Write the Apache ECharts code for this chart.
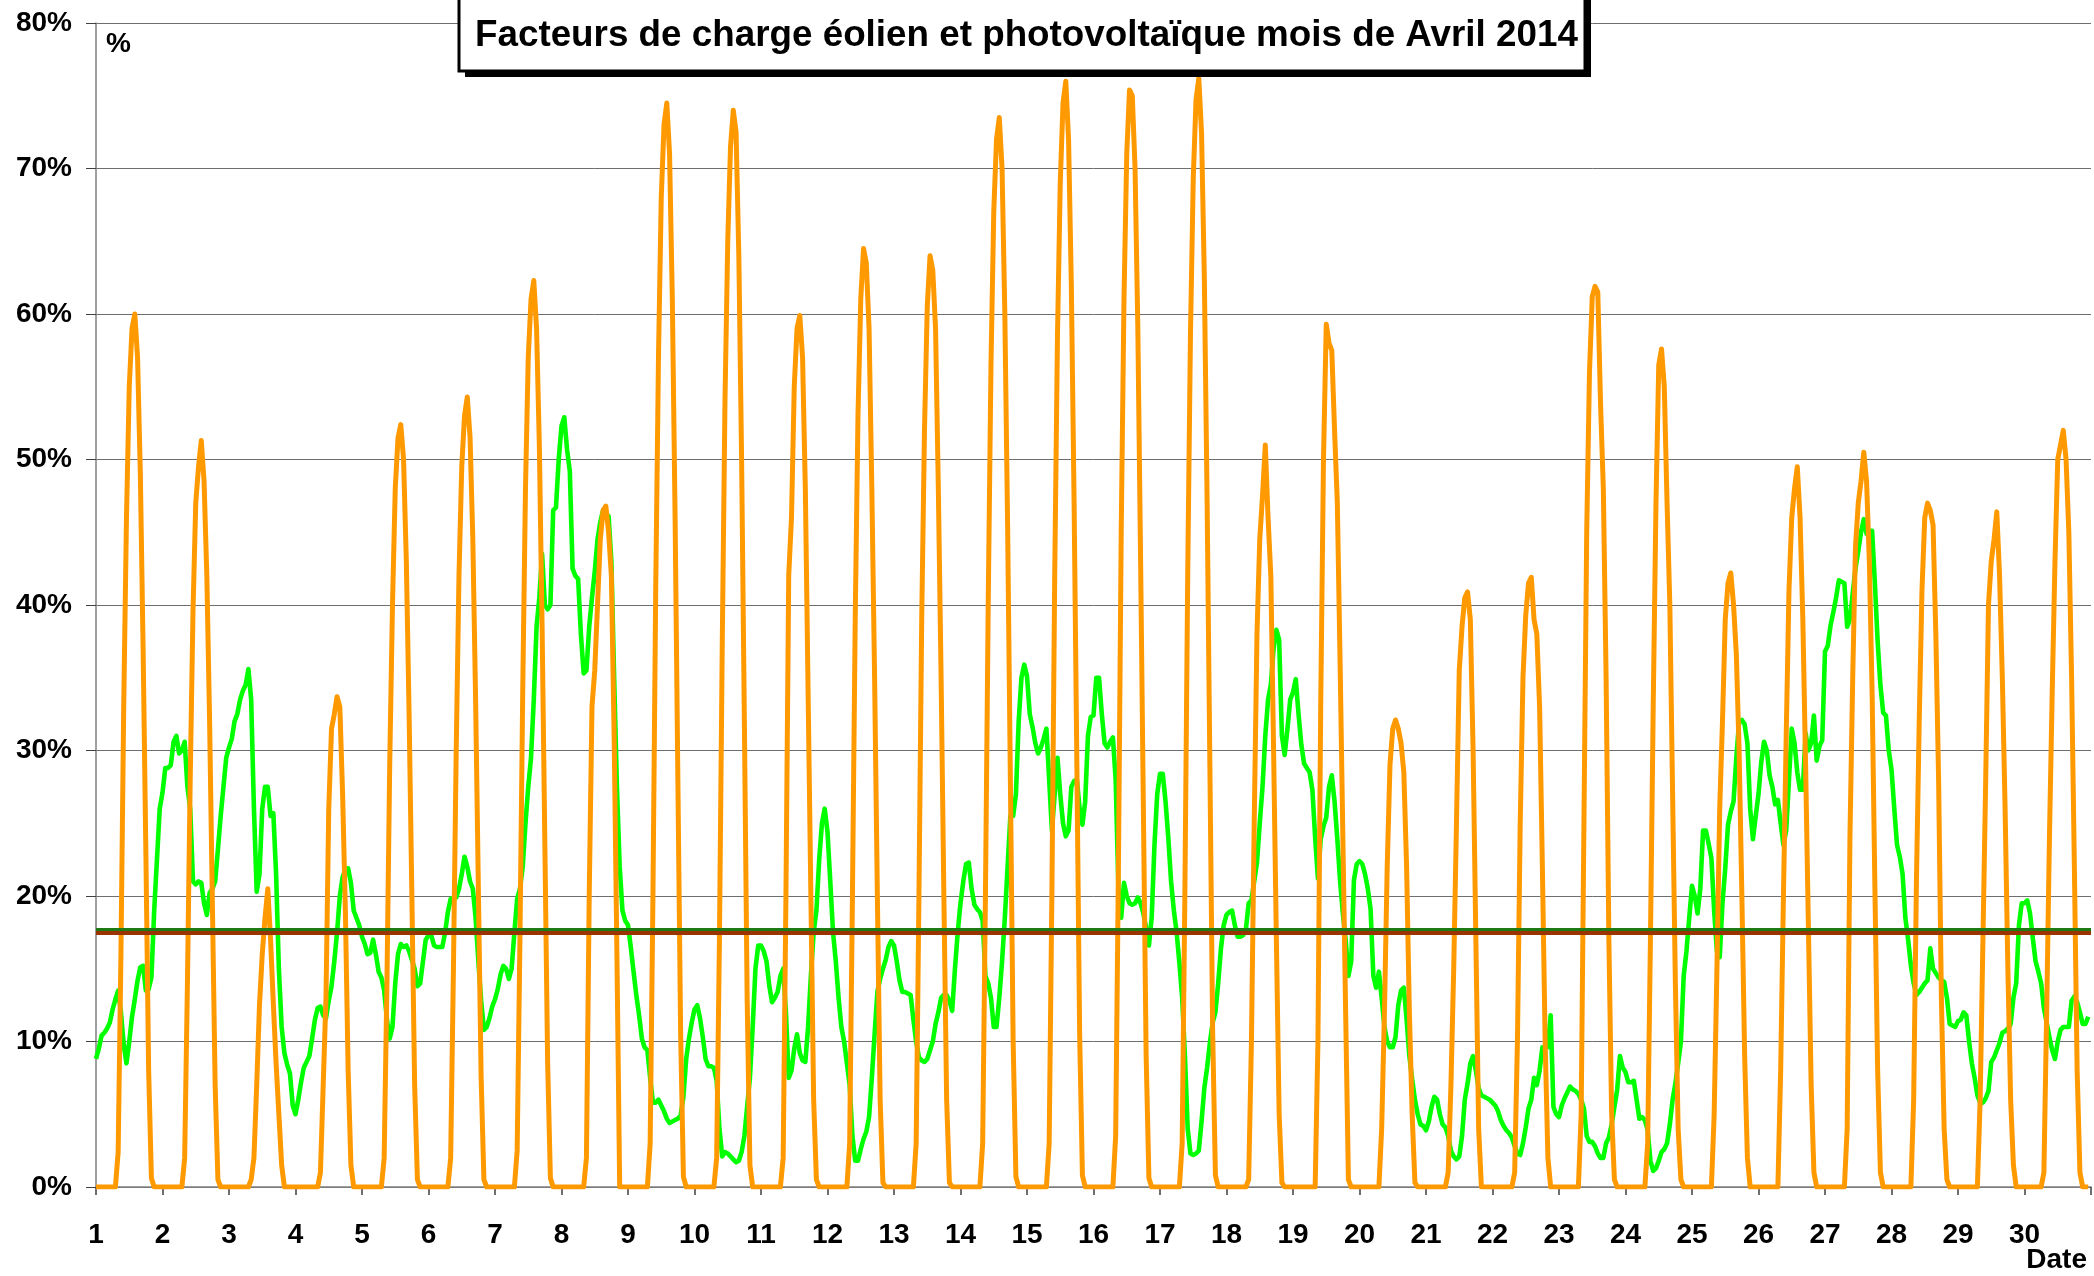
<!DOCTYPE html>
<html>
<head>
<meta charset="utf-8">
<title>Facteurs de charge Avril 2014</title>
<script src="https://cdn.jsdelivr.net/npm/echarts@6/dist/echarts.min.js"></script>
<style>
  html, body { margin: 0; padding: 0; background: #fff; }
  #chart { width: 2094px; height: 1276px; }
</style>
</head>
<body>
<div id="chart"></div>
<script>
// facteur de charge horaire (%), une ligne = un jour (0h..23h)
const wind = [
  [8.8, 9.5, 10.4, 10.6, 10.9, 11.3, 12.2, 12.9, 13.5, 12, 9.8, 8.5, 10, 11.7, 12.9, 14.2, 15.1, 15.2, 13.5, 13.6, 14.4, 19, 22.5, 26],
  [27.1, 28.8, 28.8, 29, 30.6, 31, 29.8, 30, 30.6, 27.5, 26, 21, 20.8, 21, 20.9, 19.5, 18.7, 20.2, 20.5, 21, 23.2, 25.5, 27.5, 29.5],
  [30.2, 30.8, 32, 32.5, 33.5, 34.1, 34.5, 35.6, 33.5, 26, 20.3, 21.5, 26, 27.5, 27.5, 25.5, 25.7, 21.5, 15, 11, 9.2, 8.4, 7.8, 5.6],
  [5, 6, 7.2, 8.2, 8.6, 9, 10.2, 11.5, 12.3, 12.4, 11.8, 11.6, 12.8, 13.8, 15.5, 17.5, 20, 21.3, 21.8, 21.9, 20.9, 19, 18.5, 18],
  [17.2, 16.7, 16, 16.1, 17, 16, 14.8, 14.4, 13.5, 11.5, 10.2, 11, 14, 16, 16.7, 16.5, 16.6, 16.2, 15.6, 15, 13.8, 14, 15.5, 17],
  [17.3, 17.3, 16.6, 16.5, 16.5, 16.5, 17.5, 18.9, 19.8, 19.9, 19.9, 20.5, 21.5, 22.7, 22, 21, 20.5, 18.5, 15.5, 12.8, 10.8, 11, 11.6, 12.4],
  [12.9, 13.6, 14.6, 15.2, 15, 14.3, 15, 17.5, 19.8, 20.5, 22, 25, 27.5, 29.5, 33.5, 38.5, 40.5, 43.5, 40, 39.7, 40, 46.5, 46.7, 50],
  [52.3, 52.9, 50.7, 49.2, 42.5, 42, 41.8, 38, 35.3, 35.5, 38.5, 40.5, 42.3, 44.5, 45.7, 46.5, 46.3, 46.1, 43, 35, 27.5, 22, 19, 18.3],
  [18, 16.5, 14.8, 13.2, 11.8, 10.2, 9.6, 9.4, 7.5, 5.8, 5.8, 6, 5.6, 5.2, 4.7, 4.4, 4.5, 4.6, 4.7, 4.9, 6.2, 8.8, 10.2, 11.3],
  [12.2, 12.5, 11.6, 10.3, 8.8, 8.3, 8.3, 8.2, 7.3, 4, 2.1, 2.4, 2.3, 2.1, 1.9, 1.7, 1.8, 2.4, 3.5, 5.5, 7.5, 11, 15, 16.6],
  [16.6, 16.2, 15.5, 13.8, 12.7, 13, 13.4, 14.5, 15, 12, 7.5, 8, 9.5, 10.5, 9.2, 8.7, 8.6, 11, 14.5, 17.5, 19, 22.5, 25, 26],
  [24.4, 21, 17.5, 15.5, 13, 11, 10, 8.5, 7, 3.5, 1.8, 1.8, 2.6, 3.3, 3.8, 4.8, 7.5, 10.5, 13.4, 14.3, 15, 15.6, 16.5, 16.9],
  [16.6, 15.5, 14.2, 13.4, 13.4, 13.3, 13.2, 11.5, 10, 8.9, 8.7, 8.6, 8.8, 9.4, 10, 11.2, 12, 13, 13.2, 13.2, 12.8, 12.1, 15, 17.5],
  [19.5, 21, 22.2, 22.3, 20.5, 19.4, 19.1, 18.9, 18.3, 14.5, 14, 13, 11, 11, 13, 15.5, 18.5, 22, 25.5, 25.5, 27, 32, 35, 35.9],
  [35.1, 32.5, 31.6, 30.5, 29.8, 30.2, 30.8, 31.5, 28, 24.5, 27, 29.5, 27, 25, 24.1, 24.5, 27.5, 27.9, 28, 26, 24.9, 26.5, 31, 32.3],
  [32.4, 35, 35, 32.5, 30.5, 30.2, 30.6, 30.9, 28, 20.5, 18.5, 20.9, 20, 19.5, 19.4, 19.5, 19.9, 19.5, 18.8, 17.8, 16.6, 18.5, 23.5, 27],
  [28.4, 28.4, 26.5, 24, 21, 19, 17.5, 15.4, 13, 9, 4, 2.3, 2.2, 2.3, 2.5, 4.5, 6.8, 8.2, 9.9, 11.3, 12, 14, 16.4, 18],
  [18.7, 18.9, 19, 18, 17.2, 17.2, 17.3, 17.7, 19.5, 19.7, 21, 22.3, 25, 27.5, 31, 33.5, 34.5, 37, 38.3, 37.6, 31, 29.7, 31.5, 33.5],
  [34, 34.9, 32.5, 30.4, 29.1, 28.8, 28.5, 27.3, 24, 21.2, 23.9, 24.8, 25.4, 27.5, 28.3, 26.5, 23.9, 21, 18.8, 17, 14.5, 15.5, 21.1, 22.2],
  [22.4, 22.2, 21.5, 20.5, 19.1, 14.5, 13.7, 14.8, 13, 11, 10, 9.6, 9.6, 10.3, 12.5, 13.5, 13.7, 11.5, 9, 7.4, 6, 5, 4.3, 4.2],
  [3.9, 4.5, 5.5, 6.2, 6, 5, 4.3, 4.1, 3.5, 2.5, 2.1, 1.9, 2.1, 3.5, 6, 7.1, 8.5, 9, 8, 6.8, 6.3, 6.2, 6.1, 6],
  [5.8, 5.6, 5.2, 4.6, 4.2, 3.9, 3.7, 3.4, 2.8, 2.3, 2.2, 3, 4.1, 5.4, 6, 7.5, 7, 8, 9.6, 9.6, 9.6, 11.8, 5.5, 5],
  [4.8, 5.6, 6.1, 6.5, 6.9, 6.7, 6.6, 6.4, 6, 5.4, 3.5, 3.1, 3.1, 2.8, 2.3, 2, 2, 3, 3.4, 4.3, 5.5, 6.7, 9, 8.2],
  [7.9, 7.2, 7.2, 7.3, 6, 4.7, 4.8, 4.6, 3.9, 1.8, 1.1, 1.3, 1.8, 2.4, 2.6, 3, 4.3, 6, 7.1, 8.5, 10, 14.5, 16.2, 18.5],
  [20.7, 20, 18.8, 20.5, 24.5, 24.5, 23.6, 22.6, 19, 16.2, 15.8, 19.5, 21.9, 24.9, 25.8, 26.5, 29.5, 32, 32.1, 31.8, 30.5, 26, 23.9, 25.5],
  [27, 29.2, 30.6, 30, 28.3, 27.5, 26.3, 26.6, 25, 23.5, 24.5, 28, 31.5, 30.5, 28.5, 27.3, 27.3, 31.2, 30, 30.5, 32.4, 29.3, 30.3, 30.7],
  [36.8, 37.2, 38.6, 39.5, 40.5, 41.7, 41.6, 41.5, 38.5, 39, 40.8, 42.5, 43.7, 45, 45.9, 44.9, 45.1, 45.1, 41.5, 37.5, 34.5, 32.6, 32.4, 30],
  [28.7, 26, 23.5, 22.7, 21.5, 18.5, 17, 15.2, 14, 13.2, 13.4, 13.7, 14, 14.2, 16.4, 15, 14.7, 14.4, 14.2, 14.1, 13, 11.2, 11.1, 11],
  [11.4, 11.5, 12, 11.8, 10, 8.5, 7.5, 6.3, 5.8, 5.8, 6.1, 6.6, 8.6, 8.9, 9.4, 9.9, 10.6, 10.7, 10.9, 11.2, 13, 14, 18, 19.5],
  [19.5, 19.7, 18.8, 17.1, 15.5, 14.8, 14, 12.3, 11.3, 10.3, 9.4, 8.8, 10, 10.8, 11, 11, 11, 12.8, 13.1, 12.7, 12, 11.2, 11.2, 11.7]
];

const solar = [
  [0, 0, 0, 0, 0, 0, 0, 0, 2.4, 16, 33, 46, 55, 59, 60, 57, 49, 37, 23, 8, 0.6, 0, 0, 0],
  [0, 0, 0, 0, 0, 0, 0, 0, 2, 14, 28, 39.5, 47, 49.5, 51.3, 48.5, 42, 32, 19.5, 7, 0.5, 0, 0, 0],
  [0, 0, 0, 0, 0, 0, 0, 0, 0.5, 2, 7, 12.5, 16, 18.5, 20.5, 17, 12.6, 8.5, 5, 1.5, 0, 0, 0, 0],
  [0, 0, 0, 0, 0, 0, 0, 0, 0, 1, 7, 13, 26, 31.5, 32.5, 33.7, 33, 27, 19, 8, 1.5, 0, 0, 0],
  [0, 0, 0, 0, 0, 0, 0, 0, 2, 14, 29, 40, 48, 51.5, 52.4, 50, 43, 32.5, 20, 7, 0.5, 0, 0, 0],
  [0, 0, 0, 0, 0, 0, 0, 0, 2, 15, 30, 42, 49.5, 53, 54.3, 51.5, 44.5, 33.5, 20.5, 7.5, 0.5, 0, 0, 0],
  [0, 0, 0, 0, 0, 0, 0, 0, 2.5, 17, 34, 48, 57, 61, 62.3, 59, 51, 38.5, 23.5, 8.5, 0.6, 0, 0, 0],
  [0, 0, 0, 0, 0, 0, 0, 0, 0, 2, 20, 33, 35.5, 40, 44.5, 46.5, 46.8, 45, 42, 31, 16, 0, 0, 0],
  [0, 0, 0, 0, 0, 0, 0, 0, 3, 20, 41, 57, 68, 73, 74.5, 71, 61, 46, 28, 10.5, 0.7, 0, 0, 0],
  [0, 0, 0, 0, 0, 0, 0, 0, 2, 17, 37, 54, 65, 71.5, 74, 72.5, 64, 50, 32, 13, 1.5, 0, 0, 0],
  [0, 0, 0, 0, 0, 0, 0, 0, 2, 20, 42, 46, 55, 59, 59.9, 57, 48, 34, 20, 6, 0.5, 0, 0, 0],
  [0, 0, 0, 0, 0, 0, 0, 0, 3, 20, 39, 53, 61, 64.5, 63.5, 59, 48, 35, 20, 6, 0.3, 0, 0, 0],
  [0, 0, 0, 0, 0, 0, 0, 0, 3, 20, 39, 52, 60.5, 64, 63, 59, 48, 35, 20, 6, 0.3, 0, 0, 0],
  [0, 0, 0, 0, 0, 0, 0, 0, 3, 20, 40, 56.5, 67, 72, 73.5, 70, 60, 45.5, 28, 10, 0.7, 0, 0, 0],
  [0, 0, 0, 0, 0, 0, 0, 0, 3, 20.5, 42, 58.5, 69, 74.5, 76, 72, 62, 47, 29, 10.5, 0.8, 0, 0, 0],
  [0, 0, 0, 0, 0, 0, 0, 0, 3.5, 22, 45, 61, 71, 75.4, 75, 70, 59, 43, 26, 9, 0.6, 0, 0, 0],
  [0, 0, 0, 0, 0, 0, 0, 0, 3, 20.6, 42, 58.7, 69.3, 74.7, 76.2, 72.4, 62.5, 47.2, 29, 10.7, 0.8, 0, 0, 0],
  [0, 0, 0, 0, 0, 0, 0, 0, 0.5, 10, 25, 38, 44.5, 47.5, 51, 46, 42, 30, 17, 5, 0.3, 0, 0, 0],
  [0, 0, 0, 0, 0, 0, 0, 0, 0, 10, 33, 50, 59.3, 58, 57.5, 52, 47, 36, 24, 12, 0.5, 0, 0, 0],
  [0, 0, 0, 0, 0, 0, 0, 0, 4, 12, 22, 29, 31.5, 32.1, 31.5, 30.5, 28.5, 22, 12, 5, 0.3, 0, 0, 0],
  [0, 0, 0, 0, 0, 0, 0, 0, 1, 7, 15, 25, 35.5, 38.5, 40.5, 40.9, 39, 30, 17, 4, 0, 0, 0, 0],
  [0, 0, 0, 0, 0, 0, 0, 0, 1, 10, 25, 35, 39.3, 41.5, 41.9, 39, 38, 33, 22, 10, 2, 0, 0, 0],
  [0, 0, 0, 0, 0, 0, 0, 0, 5, 25, 45, 56, 61.2, 61.9, 61.5, 53.8, 48, 35, 17, 5, 0.5, 0, 0, 0],
  [0, 0, 0, 0, 0, 0, 0, 0, 3, 17, 33, 47, 56.5, 57.6, 55, 47, 40, 27, 14, 4, 0.5, 0, 0, 0],
  [0, 0, 0, 0, 0, 0, 0, 0, 5, 15, 26, 32, 39, 41.5, 42.2, 40, 36.6, 30, 20, 9, 2, 0, 0, 0],
  [0, 0, 0, 0, 0, 0, 0, 0, 8, 20, 31, 41, 46, 48, 49.5, 46, 39, 29, 18, 7, 1, 0, 0, 0],
  [0, 0, 0, 0, 0, 0, 0, 0, 4, 24, 35, 44, 47, 48.5, 50.5, 48.5, 43, 34, 20.7, 8, 1, 0, 0, 0],
  [0, 0, 0, 0, 0, 0, 0, 0, 6, 21, 32, 41, 46, 47, 46.5, 45.5, 38, 28, 13, 4, 0.5, 0, 0, 0],
  [0, 0, 0, 0, 0, 0, 0, 0, 6, 17, 28, 40, 43, 44.5, 46.4, 42, 35, 26, 15, 6, 1.5, 0, 0, 0],
  [0, 0, 0, 0, 0, 0, 0, 1, 12, 24, 34, 43, 50, 51, 52, 50, 45, 35, 22, 8, 1, 0, 0, 0]
];

// moyennes du mois
const windMean = 17.68;
const solarMean = 17.44;

const firstDay = 1;
const lastDay = 31;
const lastLabelDay = 30;

const titleText = 'Facteurs de charge éolien et photovoltaïque mois de Avril 2014';
const FONT = '"Liberation Sans", Arial, sans-serif';

// heure -> abscisse en jours
const toPoints = (rows) => rows.flat().map((v, i) => [firstDay + i / 24, v]);

const chart = echarts.init(document.getElementById('chart'));

const option = {
  animation: false,
  backgroundColor: '#ffffff',
  title: {
    text: titleText,
    left: 475,
    top: 17,
    padding: 0,
    z: 30,
    textStyle: {
      fontFamily: FONT,
      fontWeight: 'bold',
      fontSize: 36.8,
      color: '#000000'
    }
  },
  grid: {
    left: 96,
    right: 0,
    top: 23,
    bottom: 89,
    containLabel: false
  },
  xAxis: {
    type: 'value',
    min: firstDay,
    max: lastDay,
    interval: 1,
    axisLine: { show: true, lineStyle: { color: '#808080', width: 1.5 } },
    axisTick: { show: true, length: 8, lineStyle: { color: '#404040', width: 1.5 } },
    axisLabel: {
      margin: 34,
      color: '#000000',
      fontFamily: FONT,
      fontWeight: 'bold',
      fontSize: 28,
      formatter: (v) => (v <= lastLabelDay ? String(v) : '')
    },
    splitLine: { show: false }
  },
  yAxis: {
    type: 'value',
    min: 0,
    max: 80,
    interval: 10,
    axisLine: { show: true, lineStyle: { color: '#808080', width: 1.5 } },
    axisTick: { show: true, length: 10, lineStyle: { color: '#404040', width: 1 } },
    axisLabel: {
      margin: 24,
      color: '#000000',
      fontFamily: FONT,
      fontWeight: 'bold',
      fontSize: 28,
      formatter: '{value}%'
    },
    splitLine: { show: true, lineStyle: { color: '#6e6e6e', width: 1 } }
  },
  graphic: [
    {
      // cadre du titre avec ombre portée
      type: 'group',
      z: 20,
      children: [
        {
          type: 'rect',
          z: 20,
          shape: { x: 465, y: -10, width: 1126, height: 87 },
          style: { fill: '#000000' }
        },
        {
          type: 'rect',
          z: 21,
          shape: { x: 459, y: -10, width: 1126, height: 81 },
          style: { fill: '#ffffff', stroke: '#000000', lineWidth: 3 }
        }
      ]
    },
    {
      type: 'text',
      left: 106,
      top: 30,
      style: { text: '%', font: 'bold 28px ' + FONT, fill: '#000000' }
    },
    {
      type: 'text',
      right: 7,
      top: 1246,
      style: { text: 'Date', font: 'bold 28px ' + FONT, fill: '#000000' }
    }
  ],
  series: [
    {
      name: 'Eolien',
      type: 'line',
      data: toPoints(wind),
      showSymbol: false,
      z: 2,
      lineStyle: { color: '#00ff00', width: 4.6, join: 'round' },
      itemStyle: { color: '#00ff00' }
    },
    {
      name: 'Photovoltaïque',
      type: 'line',
      data: toPoints(solar),
      showSymbol: false,
      z: 3,
      lineStyle: { color: '#ff9900', width: 5, join: 'round' },
      itemStyle: { color: '#ff9900' },
      markLine: {
        silent: true,
        symbol: 'none',
        label: { show: false },
        data: [
          { yAxis: windMean, lineStyle: { color: '#1e7a14', width: 4, type: 'solid' } },
          { yAxis: solarMean, lineStyle: { color: '#993300', width: 4, type: 'solid' } }
        ]
      }
    }
  ]
};

chart.setOption(option);
</script>
</body>
</html>
